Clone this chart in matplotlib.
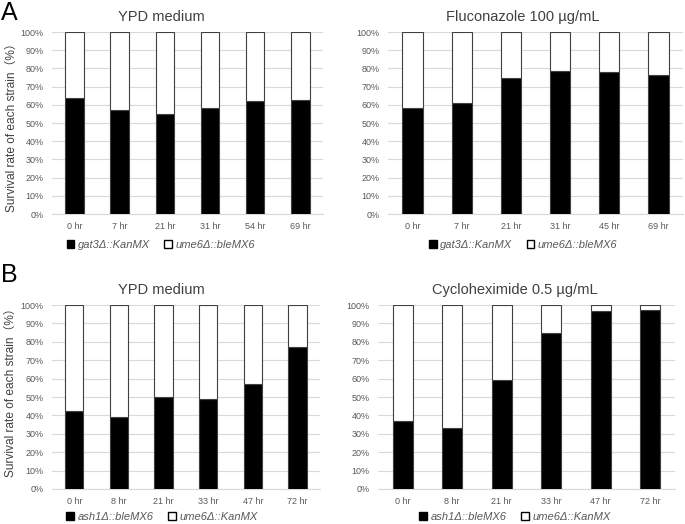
import numpy as np
import matplotlib
matplotlib.use('Agg')
import matplotlib.pyplot as plt
import matplotlib.patches as mpatches
from matplotlib.ticker import PercentFormatter

plt.rcParams['font.family'] = ['Liberation Sans', 'Noto Sans CJK JP', 'DejaVu Sans']

# panel A
a_times_ypd = ['0 hr', '7 hr', '21 hr', '31 hr', '54 hr', '69 hr']
a_gat3_ypd = [64.0, 57.1, 54.7, 58.0, 62.2, 62.9]
a_times_flu = ['0 hr', '7 hr', '21 hr', '31 hr', '45 hr', '69 hr']
a_gat3_flu = [58.5, 61.1, 74.5, 78.7, 78.2, 76.3]
a_labels = ['gat3Δ::KanMX', 'ume6Δ::bleMX6']

# panel B
b_times = ['0 hr', '8 hr', '21 hr', '33 hr', '47 hr', '72 hr']
b_ash1_ypd = [42.4, 38.9, 50.2, 48.9, 57.2, 77.0]
b_ash1_cyc = [37.1, 33.0, 59.1, 84.6, 96.9, 97.3]
b_labels = ['ash1Δ::bleMX6', 'ume6Δ::KanMX']

fig = plt.figure(figsize=(6.85, 5.24), dpi=100)

tick_col = '#595959'
grid_col = '#d9d9d9'


def panel(rect, title, times, bottom_vals, labels, cx, leg_y, ylabel=None):
    ax = fig.add_axes(rect)
    x = np.arange(len(times))
    bottom_vals = np.array(bottom_vals)
    top_vals = 100 - bottom_vals
    ax.bar(x, bottom_vals, width=0.41, color='black', edgecolor='#404040',
           linewidth=0.8, zorder=3)
    ax.bar(x, top_vals, bottom=bottom_vals, width=0.41, color='white',
           edgecolor='#404040', linewidth=0.8, zorder=3)
    ax.set_xlim(-0.5, len(times) - 0.5)
    ax.set_ylim(0, 100)
    ax.set_yticks(np.arange(0, 101, 10))
    ax.yaxis.set_major_formatter(PercentFormatter(decimals=0))
    ax.set_xticks(x)
    ax.set_xticklabels(times)
    ax.tick_params(length=0, labelsize=6.5, labelcolor=tick_col, pad=6)
    ax.grid(axis='y', color=grid_col, linewidth=0.8, zorder=0)
    for s in ['left', 'right', 'top']:
        ax.spines[s].set_visible(False)
    ax.spines['bottom'].set_color(grid_col)
    ax.set_title(title, fontsize=10.5, color='#404040', pad=8, x=cx)
    if ylabel is not None:
        ax.set_ylabel('Survival rate of each strain（%）', fontsize=8.6,
                      color='#404040')
        ax.yaxis.set_label_coords(ylabel[0], ylabel[1])
    handles = [mpatches.Patch(facecolor='black', edgecolor='black', label=labels[0]),
               mpatches.Patch(facecolor='white', edgecolor='black', label=labels[1])]
    leg = ax.legend(handles=handles, loc='center', bbox_to_anchor=(cx, leg_y),
                    ncol=2, frameon=False, handlelength=0.7, handleheight=0.7,
                    handletextpad=0.3, columnspacing=1.3, borderpad=0,
                    prop={'style': 'italic', 'size': 8})
    for t in leg.get_texts():
        t.set_color(tick_col)
    return ax


panel([0.0759, 0.5916, 0.3956, 0.3473], 'YPD medium', a_times_ypd, a_gat3_ypd,
      a_labels, 0.402, -0.17, ylabel=(-0.125, 0.49))
panel([0.5664, 0.5916, 0.4307, 0.3473], 'Fluconazole 100 µg/mL', a_times_flu,
      a_gat3_flu, a_labels, 0.458, -0.17)
panel([0.0759, 0.0668, 0.3912, 0.3511], 'YPD medium', b_times, b_ash1_ypd,
      b_labels, 0.41, -0.152, ylabel=(-0.13, 0.54))
panel([0.5518, 0.0668, 0.4336, 0.3511], 'Cycloheximide 0.5 µg/mL', b_times,
      b_ash1_cyc, b_labels, 0.461, -0.152)

fig.text(0.002, 0.975, 'A', fontsize=18, va='center', ha='left')
fig.text(0.002, 0.475, 'B', fontsize=18, va='center', ha='left')

fig.savefig('out.png', dpi=100)
